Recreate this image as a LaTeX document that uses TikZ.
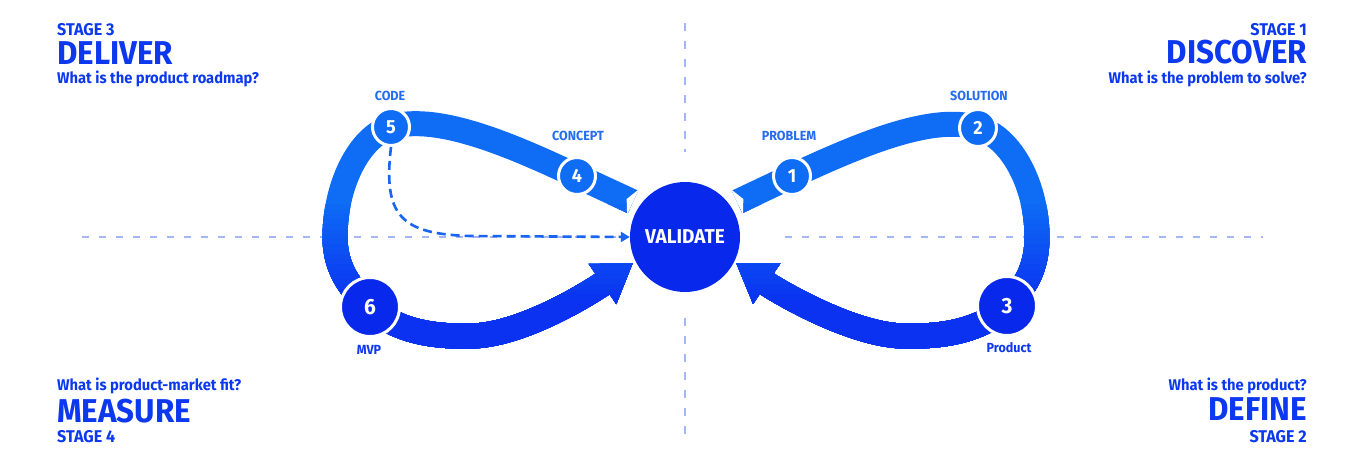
\documentclass[tikz,border=0pt]{standalone}
\usepackage{fontspec}
\setmainfont{Fira Sans}[FakeStretch=0.95]
\usetikzlibrary{arrows.meta, calc}
\definecolor{bandtop}{RGB}{14,108,245}
\definecolor{bandbot}{RGB}{10,50,240}
\definecolor{valblue}{RGB}{8,40,236}
\definecolor{headblue}{RGB}{12,56,240}
\definecolor{lblblue}{RGB}{36,108,240}
\definecolor{dashblue}{RGB}{25,100,240}
\definecolor{guidegray}{RGB}{165,182,248}
\pgfdeclarelayer{back}
\pgfdeclarelayer{bands}
\pgfsetlayers{back,bands,main}
\tikzset{
  valnode/.style={circle, fill=valblue, text=white, minimum size=110pt,
    inner sep=0pt, font=\fontsize{20}{20}\selectfont\bfseries},
  stepdot/.style={circle, fill=bandtop, draw=white, line width=3pt,
    minimum size=37pt, inner sep=0pt, text=white,
    font=\fontsize{19}{19}\selectfont\bfseries},
  bigdot/.style={stepdot, fill=valblue, minimum size=59pt,
    font=\fontsize{22}{22}\selectfont\bfseries},
  stagetxt/.style={text=headblue, inner sep=0pt,
    font=\fontsize{17}{17}\selectfont\bfseries},
  headtxt/.style={text=headblue, inner sep=0pt,
    font=\fontsize{33}{33}\selectfont\bfseries},
  asktxt/.style={text=headblue, inner sep=0pt,
    font=\fontsize{15.5}{16}\selectfont\bfseries},
  lbl/.style={text=lblblue, inner sep=0pt,
    font=\fontsize{13.2}{14}\selectfont\bfseries},
  lbldark/.style={lbl, text=headblue},
  band/.style={line width=25pt},
  bandtip/.style={-{Triangle[length=37pt,width=46pt]}},
  guideline/.style={guidegray, line width=1.1pt},
  dasharrow/.style={dashblue, line width=2.6pt, dash pattern=on 9pt off 5pt,
    -{Triangle[length=9pt,width=10pt]}}
}

\begin{document}
\begin{tikzpicture}[x=1pt, y=-1pt]
  \begin{pgfonlayer}{back}
    \fill[white] (0,0) rectangle (1366,470);
    \useasboundingbox (0,0) rectangle (1366,470);
    % quadrant guides
    \draw[guideline, dash pattern=on 8pt off 10pt] (685,23) -- (685,152);
    \draw[guideline, dash pattern=on 8pt off 10pt] (685,318) -- (685,443);
    \draw[guideline, dash pattern=on 7pt off 10pt] (82,237) -- (620,237);
    \draw[guideline, dash pattern=on 7pt off 10pt] (785,237) -- (1263,237);
  \end{pgfonlayer}

  % centre and steps
  \node[valnode] (val) at (685,237) {VALIDATE};
  \node[stepdot] (n1) at (792,176) {1};
  \node[stepdot] (n2) at (978,128) {2};
  \node[bigdot]  (n3) at (1007,306) {3};
  \node[stepdot] (n4) at (577,176) {4};
  \node[stepdot] (n5) at (391,127) {5};
  \node[bigdot]  (n6) at (370,307) {6};

  \coordinate (tl) at (633,202);
  \coordinate (tr) at (737,202);
  \coordinate (al) at (633,263);
  \coordinate (ar) at (736,263);
  \coordinate (ls) at (335,237);
  \coordinate (rs) at (1037,237);
  \coordinate (lb) at (470,336);
  \coordinate (rb) at (905,336);

  % the loop, lighter on top
  \begin{pgfonlayer}{bands}
    \foreach \k in {0,...,20} {
      \pgfmathtruncatemacro\bandcut{\k==0 ? 0 : 200+5*\k}
      \pgfmathtruncatemacro\bandmix{100-5*\k}
      \begin{scope}
        \clip (0,\bandcut) rectangle (1366,470);
        \draw[band, bandtip, color=bandtop!\bandmix!bandbot] (tl) -- (n4.center)
          .. controls (523,151) and (440,112) .. (n5.center)
          .. controls (358,137) and (335,187) .. (ls)
          .. controls (335,270) and (352,290) .. (n6.center)
          .. controls (395,330) and (430,337) .. (lb)
          .. controls (520,336) and (588,294) .. (al);
        \draw[band, bandtip, color=bandtop!\bandmix!bandbot] (tr) -- (n1.center)
          .. controls (847,151) and (930,112) .. (n2.center)
          .. controls (1012,137) and (1037,187) .. (rs)
          .. controls (1037,270) and (1024,288) .. (n3.center)
          .. controls (982,330) and (945,337) .. (rb)
          .. controls (855,336) and (782,294) .. (ar);
      \end{scope}
    }
    % notched tails
    \fill[white] ($(tl)!14pt!90:(n4)$) -- ($(tl)!7pt!(n4)$) -- ($(tl)!14pt!-90:(n4)$) -- cycle;
    \fill[white] ($(tr)!14pt!90:(n1)$) -- ($(tr)!7pt!(n1)$) -- ($(tr)!14pt!-90:(n1)$) -- cycle;
  \end{pgfonlayer}

  \draw[dasharrow] (n5.south) .. controls (383,215) and (400,234) .. (470,236) -- (val.west);

  % step labels
  \node[lbl, anchor=base] (code) at (390,101) {CODE};
  \node[lbl, anchor=base] (concept) at (578,141) {CONCEPT};
  \node[lbl, anchor=base] (problem) at (789,141) {PROBLEM};
  \node[lbl, anchor=base] (solution) at (979,101) {SOLUTION};
  \node[lbldark, anchor=base] (mvp) at (369,355) {MVP};
  \node[lbldark, anchor=base] (product) at (1009,353) {Product};

  % stages
  \node[stagetxt, anchor=base west] (s3) at (57,36) {STAGE 3};
  \node[headtxt, anchor=base west] (h3) at (57,65) {DELIVER};
  \node[asktxt, anchor=base west] (q3) at (57,84) {What is the product roadmap?};
  \node[stagetxt, anchor=base east] (s1) at (1307,36) {STAGE 1};
  \node[headtxt, anchor=base east] (h1) at (1307,64) {DISCOVER};
  \node[asktxt, anchor=base east] (q1) at (1307,84) {What is the problem to solve?};
  \node[asktxt, anchor=base west] (q4) at (57,391) {What is product-market fit?};
  \node[headtxt, anchor=base west] (h4) at (57,422) {MEASURE};
  \node[stagetxt, anchor=base west] (s4) at (57,442) {STAGE 4};
  \node[asktxt, anchor=base east] (q2) at (1307,391) {What is the product?};
  \node[headtxt, anchor=base east] (h2) at (1307,420) {DEFINE};
  \node[stagetxt, anchor=base east] (s2) at (1307,442) {STAGE 2};
\end{tikzpicture}
\end{document}
